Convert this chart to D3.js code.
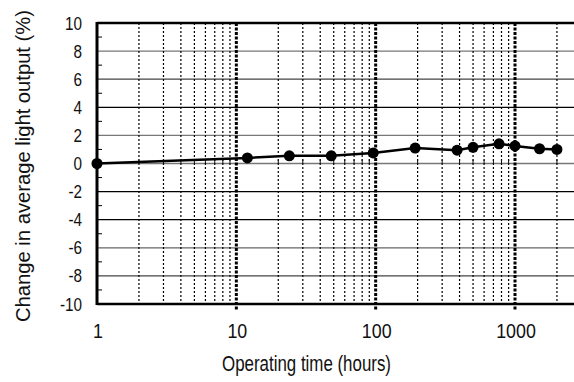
<!DOCTYPE html>
<html>
<head>
<meta charset="utf-8">
<script src="https://cdn.jsdelivr.net/npm/d3@7"></script>
<style>
body { margin: 0; background: #fff; }
text { font-family: "Liberation Sans", Arial, sans-serif; fill: #111; }
</style>
</head>
<body>
<div id="chart"></div>
<script>
// operating hours and change in light output (%)
const hours = [1, 12, 24, 48, 96, 192, 384, 500, 768, 1000, 1500, 2000];
const change = [0, 0.4, 0.55, 0.55, 0.75, 1.1, 0.95, 1.15, 1.4, 1.25, 1.05, 1.0];
const xTicks = [1, 10, 100, 1000];
const yTicks = [-10, -8, -6, -4, -2, 0, 2, 4, 6, 8, 10];
const yMinor = [-9, -7, -5, -3, -1, 1, 3, 5, 7, 9];

const width = 574, height = 382;
const plotLeft = 97, plotTop = 23, plotBottom = 304;
const squeeze = 0.85; // the original font is a condensed face

var svg = d3.select('#chart').append('svg')
	.attr('width', width)
	.attr('height', height)

var x = d3.scaleLog().domain([1, 1000]).range([plotLeft, 515])
var y = d3.scaleLinear().domain([-10, 10]).range([plotBottom, plotTop])

// minor log gridlines (2..9 per decade, plus 2000)
var minors = []
for (var d = 1; d <= 100; d *= 10) {
	for (var k = 2; k <= 9; k++) minors.push(k * d)
}
minors.push(2000)

// horizontal gridlines, shades vary a bit like the scan
var gridShade = {'-8': '#444', '-6': '#666', '-4': '#000', '-2': '#000', '0': '#777',
	'2': '#777', '4': '#000', '6': '#444', '8': '#777'}
svg.selectAll('.hgrid')
	.data(yTicks.filter(v => v > -10 && v < 10))
	.enter().append('line')
	.attr('x1', plotLeft).attr('x2', width)
	.attr('y1', d => y(d)).attr('y2', d => y(d))
	.style('stroke', d => gridShade[d])
	.style('stroke-width', 1.3)

svg.selectAll('.vminor')
	.data(minors)
	.enter().append('line')
	.attr('x1', d => x(d)).attr('x2', d => x(d))
	.attr('y1', plotTop).attr('y2', plotBottom)
	.style('stroke', '#000')
	.style('stroke-width', 1.2)
	.style('stroke-dasharray', '2,2')

// little ticks hanging below zero line
svg.selectAll('.ztick')
	.data(minors)
	.enter().append('line')
	.attr('x1', d => x(d)).attr('x2', d => x(d))
	.attr('y1', y(0) - 4).attr('y2', y(0))
	.style('stroke', '#111')
	.style('stroke-width', 1)

// decade lines
svg.selectAll('.vmajor')
	.data(xTicks.slice(1))
	.enter().append('line')
	.attr('x1', d => x(d)).attr('x2', d => x(d))
	.attr('y1', plotTop).attr('y2', plotBottom + 7)
	.style('stroke', '#000')
	.style('stroke-width', 3)
	.style('stroke-dasharray', '3,1.5')

// frame: top, bottom and left
svg.append('line')
	.attr('x1', plotLeft).attr('x2', width)
	.attr('y1', plotTop).attr('y2', plotTop)
	.style('stroke', '#000').style('stroke-width', 2.5)
svg.append('line')
	.attr('x1', plotLeft).attr('x2', width)
	.attr('y1', plotBottom).attr('y2', plotBottom)
	.style('stroke', '#000').style('stroke-width', 2.5)
svg.append('line')
	.attr('x1', plotLeft).attr('x2', plotLeft)
	.attr('y1', plotTop - 1).attr('y2', plotBottom + 1)
	.style('stroke', '#000').style('stroke-width', 3)

svg.selectAll('.yminor')
	.data(yMinor)
	.enter().append('line')
	.attr('x1', plotLeft).attr('x2', plotLeft + 5)
	.attr('y1', d => y(d)).attr('y2', d => y(d))
	.style('stroke', '#000').style('stroke-width', 1)

// tick labels
svg.selectAll('.ylab')
	.data(yTicks)
	.enter().append('text')
	.attr('transform', d => 'translate(82,' + (y(d) + 6.5) + ') scale(' + squeeze + ',1)')
	.attr('text-anchor', 'end')
	.style('font-size', '18px')
	.text(d => d)

svg.selectAll('.xlab')
	.data(xTicks)
	.enter().append('text')
	.attr('transform', d => 'translate(' + (x(d) + 1) + ',338) scale(' + squeeze + ',1)')
	.attr('text-anchor', 'middle')
	.style('font-size', '21px')
	.text(d => d)

// axis titles
svg.append('text')
	.attr('x', 222).attr('y', 371)
	.attr('textLength', 169)
	.attr('lengthAdjust', 'spacingAndGlyphs')
	.style('font-size', '22px')
	.text('Operating time (hours)')

svg.append('text')
	.attr('transform', 'translate(30,322) rotate(-90)')
	.attr('textLength', 312)
	.attr('lengthAdjust', 'spacingAndGlyphs')
	.style('font-size', '20px')
	.text('Change in average light output (%)')

// series
var line = d3.line()
	.x((d, i) => x(hours[i]))
	.y(d => y(d))

svg.append('path')
	.datum(change)
	.attr('d', line)
	.style('fill', 'none')
	.style('stroke', '#000')
	.style('stroke-width', 2.5)

svg.selectAll('.pt')
	.data(change)
	.enter().append('circle')
	.attr('cx', (d, i) => x(hours[i]))
	.attr('cy', d => y(d))
	.attr('r', 5.5)
	.style('fill', '#000')
</script>
</body>
</html>
